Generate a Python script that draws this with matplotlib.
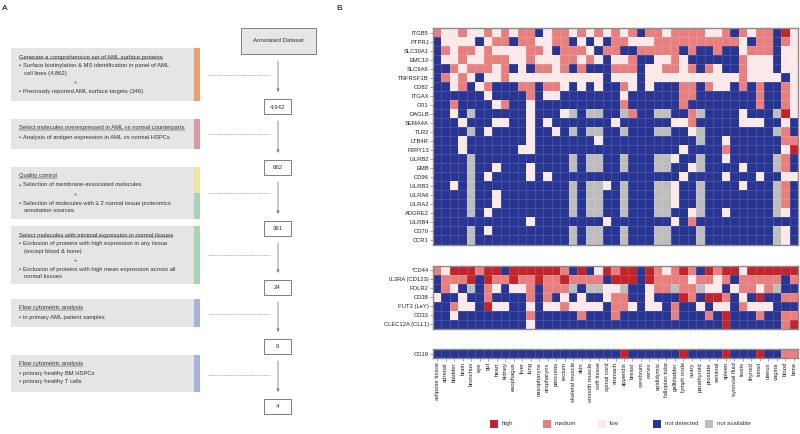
import matplotlib
matplotlib.use("Agg")
import matplotlib.pyplot as plt
import numpy as np
from matplotlib.colors import ListedColormap, BoundaryNorm
from matplotlib.patches import Rectangle

plt.rcParams['font.family'] = ['Liberation Sans', 'DejaVu Sans']

# ---------------- data ----------------
tissues = ['adipose tissue', 'adrenal', 'bladder', 'brain', 'bronchus', 'eye', 'gut', 'heart',
           'kidney', 'esophagus', 'liver', 'lung', 'nasopharynx', 'oropharynx', 'pancreas',
           'rectum', 'skeletal muscle', 'skin', 'smooth muscle', 'soft tissue', 'spinal cord',
           'stomach', 'appendix', 'breast', 'cerebrum', 'cervix', 'epididymis', 'fallopian tube',
           'gallbladder', 'lymph node', 'ovary', 'parathyroid', 'prostate', 'seminal', 'spleen',
           'synovial fluid', 'testis', 'thyroid', 'tonsil', 'uterus', 'vagina', 'blood', 'bone']

# H high, M medium, L low, n not detected, x not available
genes_top = ['ITGB5', 'PTPRJ', 'SLC30A1', 'EMC10', 'SLC6A6', 'TNFRSF1B', 'CD82', 'ITGAX', 'CR1',
             'DAGLB', 'SEMA4A', 'TLR2', 'LTB4R', 'P2RY13', 'LILRB2', 'EMB', 'CD96', 'LILRB3',
             'LILRA6', 'LILRA2', 'ADGRE2', 'LILRB4', 'CD70', 'CCR1']
rows_top = [
    "MLLMLLMLMLMMnLM" + "MLMLMLMLMnMMLMMMMLLMnMLMMnHL",
    "nLLLLnLMMnMMLLM" + "MnLnLnMMLLLMMMMMMMMMMLnMMnML",
    "nMLMMLMLLLLMMLn" + "MMMLnMMnnMMMMMnMnnMnnLMMMnLL",
    "nLLMLLMMMLLMLLL" + "MMLMLnLLMnnLLMLnnnnnnMLLLnLL",
    "nnMLMMMLMnLnMML" + "MnMnnnMMMnLLMMLMnMLnnMLLLnLL",
    "nMLMLnLLMLLLLLL" + "LLLLLnLLLnLLLLLLLLLLLMLLLLnL",
    "nnLMnLMnnnMMnMM" + "LnLnLnnMLnLnnnMMnMLLnMnMnnML",
    "nnnnnnLnnnnMnLL" + "nnnnnnnLnnnnnnMMnnnnnnnMnnML",
    "nnMnnnnLMnnLnnn" + "nnnnnnnMnnnnnnMnnnnnnnnMnnML",
    "nnLnxnnnnnnLnnn" + "LxnxxnnxMnnxxnnMxnnnnLnnnxHL",
    "nnnLnnnLLnnLnLn" + "nnnnnnLnnnnnnLLMnnnnnLLLnnLn",
    "nnnnxnLnnnnLnnL" + "nxnxxnnxnnnxxnnLxnnnnnnnnxMn",
    "nnnLnnnnnnnLnnn" + "nnnnLnnnnnnnnnnnxnnLnnnnnnMM",
    "nnnLnnnnnnLLnnn" + "nnnnnnnnnnnnnnLnnnnMnnnnnnLH",
    "nnnnxnnnnnnnnnn" + "nxnxxnnxnnnxxLnnxnnLnnnnnxMn",
    "nnnnxnnLnnnLnnn" + "nxnxxnnxnnnxxnnLxnnnnLnnnxMn",
    "nnnnxnLnnnnLnLn" + "nnnnnnnnnnnnnnLnnnnLnnnLnnLL",
    "nnLnxnnnnnnnnnn" + "nxnxxLnxnnnxxLnnxnnnnLnnnxMn",
    "nnnnxnnLnnnnnnn" + "nxnxxnnxnnnxxLnnxnnnnnnnnxMn",
    "nnnnxnnLnnnnnnn" + "nxnxxnnxnnnxxLnnxnnnnnnnnxMn",
    "nnnnxnLnnnnnnnn" + "nxnxxnnxnnnxxnnLxnnLnnnnnxLn",
    "nnnnnnnnnnnLnnn" + "nnnnnLnnnnnnnLnMnnnnnnnnnnnn",
    "nnnnxnLnnnnnnnn" + "nxnxxnnxnnnxxnnnxnnnnnnnnxLn",
    "nnnnxnnnnnnnnnn" + "nxnxxnnxnnnxxnnnxnnnnnnnnxLn",
]

genes_mid = ['*CD44', 'IL3RA (CD123)', 'FOLR2', 'CD38', 'FUT3 (LeY)', 'CD33', 'CLEC12A (CLL1)']
rows_mid = [
    "MLHHHMHHnHHHHHH" + "MnHnLHMHHnHMLMHMnHMHHLHHHHHH",
    "nMMMHnHMMHMMHMM" + "HMMMMnHHHnHMMMMLMMLMnMMMMMnM",
    "nMLnxnMLnLLMnMM" + "MxnxxLLxnnLMMxMMxLLnLMMLMxnn",
    "LnnLnnMnnnnMnMn" + "LnLnnLMMnnLnnnHMnHHMnLnHnnMM",
    "nnMLLnHLLnnLnLL" + "MLLLLnMMLnLLnMnnLnLLnMLLLnnn",
    "nnLnnnnnnnnMnnn" + "nnMnnnMnnnnnnMnnnMnHnnnMnnMM",
    "nnnnnnnnnnnLnnn" + "nnnnnnnnnnnnnnnnnnnHnnnnnnMH",
]

genes_bot = ['CD19']
rows_bot = ["nnnnnnnnnnnnnnn" + "nnnnnnnHnnnnnnHnnnnHnnnHnnMM"]

legend_labels = ['high', 'medium', 'low', 'not detected', 'not available']
legend_codes = ['H', 'M', 'L', 'n', 'x']

counts = ['4,942', '682', '361', '24', '9', '4']

steps = [
    [('t', 'Generate a comprehensive set of AML surface proteins'),
     ('b', 'Surface biotinylation & MS identification in panel of AML'),
     ('c', 'cell lines (4,862)'),
     ('+', '+'),
     ('b', 'Previously reported AML surface targets (346)')],
    [('t', 'Select molecules overexpressed in AML vs normal counterparts'),
     ('b', 'Analysis of antigen expression in AML vs normal HSPCs')],
    [('t', 'Quality control'),
     ('b', 'Selection of membrane-associated molecules'),
     ('+', '+'),
     ('b', 'Selection of molecules with \u2265 2 normal tissue proteomics'),
     ('c', 'annotation sources')],
    [('t', 'Select molecules with minimal expression in normal tissues'),
     ('b', 'Exclusion of proteins with high expression in any tissue'),
     ('c', '(except blood & bone)'),
     ('+', '+'),
     ('b', 'Exclusion of proteins with high mean expression across all'),
     ('c', 'normal tissues')],
    [('t', 'Flow cytometric analysis'),
     ('b', 'in primary AML patient samples')],
    [('t', 'Flow cytometric analysis'),
     ('b', 'primary healthy BM HSPCs'),
     ('b', 'primary healthy T cells')],
]

# ---------------- layout (pixels) ----------------
W, H = 800, 434
box_y = [(48, 101), (119, 149), (167, 219), (226, 284), (299, 327), (355, 392)]
line_y = [[57, 66, 73, 82, 92], [128, 137], [176, 185, 194, 204, 211],
          [235, 244, 252, 261, 270, 277], [308, 317], [364, 374, 381]]
bar_colors = [['#e9a06e'], ['#d99aa4'], ['#ede6a0', '#a6d4b4'], ['#a6d4b4'], ['#a4b3de'], ['#a4b3de']]
dash_y = [75, 134, 193, 255, 314, 375]
count_top = [99, 160, 221, 280, 339, 399]

level_colors = {'x': '#bdbdbd', 'n': '#283593', 'L': '#fbe9ea', 'M': '#e77f7f', 'H': '#c3242c'}
order = ['x', 'n', 'L', 'M', 'H']
cmap = ListedColormap([level_colors[k] for k in order])
norm = BoundaryNorm(np.arange(-0.5, 5.5, 1), cmap.N)

fig = plt.figure(figsize=(W / 100, H / 100), dpi=100)
ax0 = fig.add_axes([0, 0, 1, 1])
ax0.set_xlim(0, W)
ax0.set_ylim(H, 0)
ax0.axis('off')

ax0.text(2, 9, 'A', fontsize=6, va='center')
ax0.text(336, 9, 'B', fontsize=6, va='center')

fs = 4.25
titles = []
for (y0, y1), cols, lines, ys in zip(box_y, bar_colors, steps, line_y):
    ax0.add_patch(Rectangle((11, y0), 183, y1 - y0, facecolor='#e5e5e5', edgecolor='none'))
    seg = (y1 - y0) / len(cols)
    for i, c in enumerate(cols):
        ax0.add_patch(Rectangle((194, y0 + i * seg), 6, seg, facecolor=c, edgecolor='none'))
    plus_x = 75
    for (kind, txt), y in zip(lines, ys):
        if kind == 't':
            t = ax0.text(19, y, txt, fontsize=fs, va='center', color='#333333')
            titles.append(t)
        elif kind == 'b':
            ax0.text(19, y, '\u2022', fontsize=fs, va='center', color='#333333')
            ax0.text(23, y, txt, fontsize=fs, va='center', color='#333333')
        elif kind == 'c':
            ax0.text(24, y, txt, fontsize=fs, va='center', color='#333333')
        else:
            ax0.text(plus_x, y, txt, fontsize=fs - 0.5, va='center', ha='center', color='#333333')

for y in dash_y:
    ax0.plot([208, 270], [y, y], color='#999999', lw=0.5, ls=(0, (1.5, 1)))

# flow chart
ax0.add_patch(Rectangle((241, 28), 75, 26, facecolor='#e6e6e6', edgecolor='#7f7f7f', lw=0.7))
ax0.text(278.5, 41, 'Annotated Dataset', fontsize=4.4, ha='center', va='center', color='#333333')
prev_bottom = 54
for c, top in zip(counts, count_top):
    ax0.annotate('', xy=(278, top - 7), xytext=(278, prev_bottom + 7),
                 arrowprops=dict(arrowstyle='-|>', color='#808080', lw=0.6,
                                 mutation_scale=4, shrinkA=0, shrinkB=0))
    ax0.add_patch(Rectangle((264, top), 27, 15, facecolor='white', edgecolor='#7f7f7f', lw=0.7))
    ax0.text(277.5, top + 7.5, c, fontsize=4.4, ha='center', va='center', color='#333333')
    prev_bottom = top + 15

# legend
leg_x = [490, 543, 598, 653, 705]
for lx, lab, k in zip(leg_x, legend_labels, legend_codes):
    ax0.add_patch(Rectangle((lx, 419.5), 8, 8, facecolor=level_colors[k], edgecolor='none'))
    ax0.text(lx + 12, 423.5, lab, fontsize=4.3, va='center', color='#333333')

# ---------------- heatmaps ----------------
hx0, hx1 = 433, 798


def heat(rows, genes, y0, y1, show_x):
    ax = fig.add_axes([hx0 / W, 1 - y1 / H, (hx1 - hx0) / W, (y1 - y0) / H])
    data = np.array([[order.index(ch) for ch in r] for r in rows])
    ax.pcolormesh(data, cmap=cmap, norm=norm, edgecolors=(1, 1, 1, 0.13), linewidth=0.4)
    ax.set_xlim(0, len(tissues))
    ax.set_ylim(len(rows), 0)
    ax.set_yticks(np.arange(len(rows)) + 0.5, genes)
    if show_x:
        ax.set_xticks(np.arange(len(tissues)) + 0.5, tissues, rotation=90)
    else:
        ax.set_xticks([])
    ax.tick_params(length=2, width=0.4, color='#555555', labelsize=4.2, pad=1,
                   labelcolor='#222222')
    for s in ax.spines.values():
        s.set_color('#8c8c8c')
        s.set_linewidth(1.0)
    return ax


heat(rows_top, genes_top, 28.5, 244.5, False)
heat(rows_mid, genes_mid, 265.5, 328.5, False)
heat(rows_bot, genes_bot, 349, 358, True)

# underline step titles
fig.canvas.draw()
inv = ax0.transData.inverted()
for t in titles:
    bb = t.get_window_extent()
    (xa, ya), (xb, yb) = inv.transform([(bb.x0, bb.y0), (bb.x1, bb.y1)])
    yl = max(ya, yb) - 0.3
    ax0.plot([xa, xb], [yl, yl], color='#333333', lw=0.35)

fig.savefig('out.png', dpi=100)
